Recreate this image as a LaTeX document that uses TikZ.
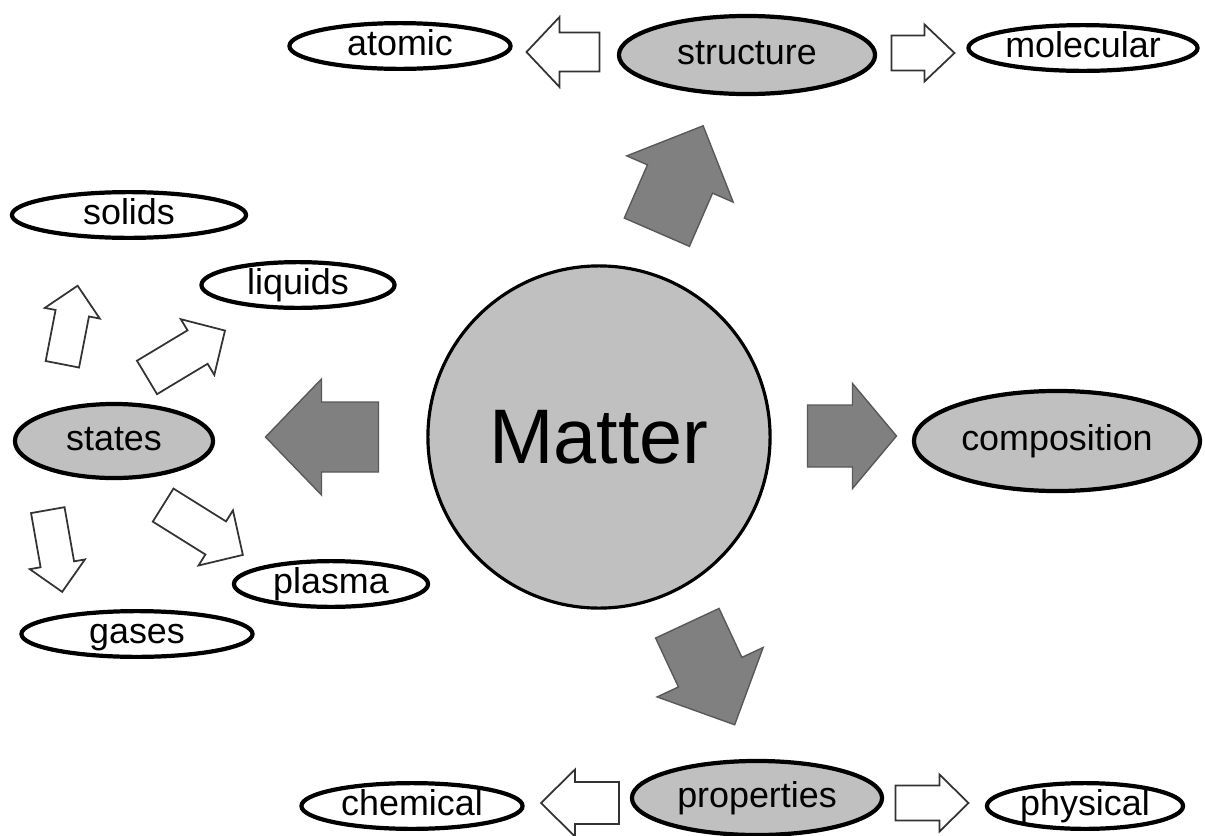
\documentclass[tikz,border=0pt]{standalone}
\usepackage{fontspec}
\setmainfont{Liberation Sans}
\usetikzlibrary{shapes.geometric}
\definecolor{bubble}{HTML}{C0C0C0}
\definecolor{darkfill}{HTML}{808080}

\tikzset{
  topic/.style={ellipse,draw,line width=1.2pt,fill=bubble,inner sep=0pt,text height=0.72em,text depth=0.2em,font=\fontsize{10.2}{12}\selectfont},
  leaf/.style={topic,fill=white},
  bigarrow/.style={fill=darkfill,draw=black!65,line width=0.4pt},
  smallarrow/.style={fill=white,draw=black!80,line width=0.5pt},
  pics/blockarrow/.style args={#1/#2/#3/#4}{code={%
    \path[pic actions] (-#1/2,-#2/2) -- (#1/2-#4,-#2/2) -- (#1/2-#4,-#3/2) -- (#1/2,0)
      -- (#1/2-#4,#3/2) -- (#1/2-#4,#2/2) -- (-#1/2,#2/2) -- cycle;}}
}

\begin{document}
\begin{tikzpicture}[x=0.01cm,y=-0.01cm]
	\useasboundingbox (0,0) rectangle (1205,836);
	% centre
	\node (matter) at (599,437)[circle,draw,line width=0.9pt,fill=bubble,minimum size=3.42cm,inner sep=0pt,font=\fontsize{22}{26}\selectfont] {Matter};
	% main topics
	\node (structure) at (747,55)[topic,minimum width=2.56cm,minimum height=0.78cm] {structure};
	\node (composition) at (1057,441)[topic,minimum width=2.86cm,minimum height=1.0cm] {composition};
	\node (properties) at (757,798)[topic,minimum width=2.5cm,minimum height=0.74cm] {properties};
	\node (states) at (114,441)[topic,minimum width=1.98cm,minimum height=0.74cm] {states};
	% leaves
	\node (atomic) at (400,46)[leaf,minimum width=2.21cm,minimum height=0.45cm] {atomic};
	\node (molecular) at (1083,48)[leaf,minimum width=2.29cm,minimum height=0.44cm] {molecular};
	\node (chemical) at (412,806)[leaf,minimum width=2.21cm,minimum height=0.45cm] {chemical};
	\node (physical) at (1085,806)[leaf,minimum width=1.96cm,minimum height=0.45cm] {physical};
	\node (solids) at (129,215)[leaf,minimum width=2.34cm,minimum height=0.42cm] {solids};
	\node (liquids) at (298,285)[leaf,minimum width=1.93cm,minimum height=0.41cm] {liquids};
	\node (plasma) at (331,584)[leaf,minimum width=1.94cm,minimum height=0.41cm] {plasma};
	\node (gases) at (137,634)[leaf,minimum width=2.31cm,minimum height=0.45cm] {gases};
	% big arrows
	\pic[bigarrow,rotate=66.5] at (680,179) {blockarrow=116/71/116/58};
	\pic[bigarrow,rotate=-65] at (711,674) {blockarrow=112/70/117/58};
	\pic[bigarrow,rotate=180] at (322,437) {blockarrow=113/70/116/56};
	\pic[bigarrow] at (852,436) {blockarrow=89/62/105/44};
	% small arrows
	\pic[smallarrow,rotate=180] at (563,52) {blockarrow=73/39/70/33};
	\pic[smallarrow] at (923,53) {blockarrow=63/35/57/30};
	\pic[smallarrow,rotate=180] at (580,803) {blockarrow=78/42/67/34};
	\pic[smallarrow] at (932,803) {blockarrow=73/35/57/29};
	\pic[smallarrow,rotate=79] at (70,325) {blockarrow=80/34/56/28};
	\pic[smallarrow,rotate=31] at (186,354) {blockarrow=91/39/65/32};
	\pic[smallarrow,rotate=-80] at (55,551) {blockarrow=83/34/56/28};
	\pic[smallarrow,rotate=-32] at (203,530) {blockarrow=94/39/65/32};
\end{tikzpicture}
\end{document}
